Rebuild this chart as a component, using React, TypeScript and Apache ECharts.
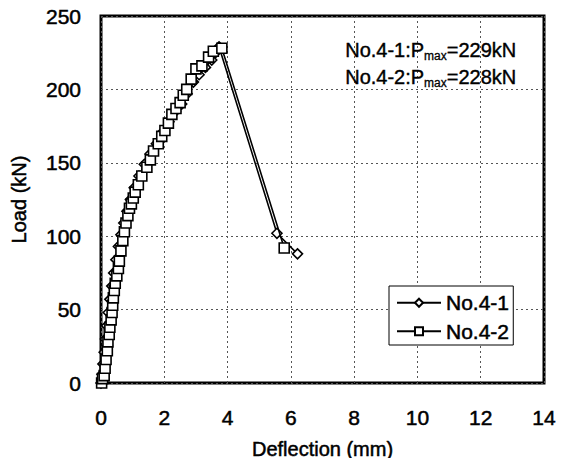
import React, { useEffect, useRef } from "react";
import * as echarts from "echarts";

const xTicks = [0, 2, 4, 6, 8, 10, 12, 14];
const yTicks = [0, 50, 100, 150, 200, 250];

const seriesNames = ["No.4-1", "No.4-2"];

// No.4-1 (diamonds)
const defl1 = [0, 0.03, 0.06, 0.1, 0.14, 0.18, 0.23, 0.28, 0.34, 0.4, 0.47, 0.55, 0.63, 0.72, 0.82, 0.93, 1.05, 1.2, 1.37, 1.55, 1.75, 1.95, 2.15, 2.35, 2.55, 2.72, 2.92, 3.1, 3.3, 3.5, 3.62, 3.73, 5.56, 6.21];
const load1 = [0, 6, 13, 21, 30, 39, 48, 57, 66, 75, 84, 93, 101, 109, 117, 125, 133, 141, 149, 156, 163, 171, 178, 185, 190, 197, 205, 210, 215, 220, 225, 229, 102, 88];

// No.4-2 (squares)
const defl2 = [0.02, 0.05, 0.1, 0.13, 0.16, 0.2, 0.22, 0.26, 0.28, 0.32, 0.35, 0.37, 0.39, 0.42, 0.45, 0.5, 0.55, 0.58, 0.63, 0.69, 0.74, 0.79, 0.85, 0.9, 0.96, 1.02, 1.08, 1.18, 1.29, 1.45, 1.56, 1.66, 1.81, 1.92, 2.02, 2.13, 2.24, 2.37, 2.5, 2.6, 2.71, 2.85, 3.0, 3.19, 3.4, 3.55, 3.82, 5.79];
const load2 = [0, 3, 5, 10, 16, 22, 28, 33, 38, 43, 48, 53, 58, 63, 68, 73, 78, 83, 90, 97, 103, 109, 114, 119, 122, 126, 130, 135, 141, 147, 152, 158, 163, 168, 172, 177, 183, 187, 191, 196, 200, 207, 214, 216, 222, 226, 228, 92];

const annotations = [
  { id: "No.4-1", pmax: 229 },
  { id: "No.4-2", pmax: 228 },
];

const FONT = "'Liberation Sans', Arial, sans-serif";
const thick = { textBorderColor: "#000", textBorderWidth: 0.5 };

export default function App() {
  const ref = useRef<HTMLDivElement>(null);
  useEffect(() => {
    if (!ref.current) return;
    const chart = echarts.init(ref.current, undefined, { renderer: "svg" });
    const toPairs = (xs: number[], ys: number[]) => xs.map((x, i) => [x, ys[i]]);
    const symbolStyle = { color: "#fff", borderColor: "#000", borderWidth: 1.6 };
    chart.setOption({
      animation: false,
      backgroundColor: "#fff",
      textStyle: { fontFamily: FONT, color: "#000" },
      grid: {
        left: 101,
        right: 24,
        top: 16,
        bottom: 83,
        show: true,
        borderColor: "#000",
        borderWidth: 3,
        backgroundColor: "transparent",
      },
      xAxis: {
        type: "value",
        min: xTicks[0],
        max: xTicks[xTicks.length - 1],
        interval: 2,
        name: "Deflection (mm)",
        nameLocation: "middle",
        nameGap: 56,
        nameTextStyle: { fontSize: 20, color: "#000", fontFamily: FONT, ...thick },
        axisLine: { show: false },
        axisTick: { show: false },
        axisLabel: { fontSize: 21, color: "#000", margin: 24, fontFamily: FONT, ...thick },
        splitLine: { show: true, lineStyle: { color: "#555", type: [2, 3], width: 1 } },
      },
      yAxis: {
        type: "value",
        min: yTicks[0],
        max: yTicks[yTicks.length - 1],
        interval: 50,
        name: "Load (kN)",
        nameLocation: "middle",
        nameGap: 72,
        nameTextStyle: { fontSize: 20, color: "#000", fontFamily: FONT, ...thick },
        axisLine: { show: false },
        axisTick: { show: false },
        axisLabel: { fontSize: 21, color: "#000", margin: 20, fontFamily: FONT, ...thick },
        splitLine: { show: true, lineStyle: { color: "#555", type: [2, 3], width: 1 } },
      },
      legend: {
        orient: "vertical",
        left: 389,
        top: 286,
        padding: [6, 4, 3, 7],
        itemGap: 7,
        itemWidth: 44,
        itemHeight: 10,
        backgroundColor: "#fff",
        borderColor: "#000",
        borderWidth: 1,
        borderRadius: 0,
        textStyle: { fontSize: 21, color: "#000", fontFamily: FONT, ...thick },
        data: seriesNames,
      },
      graphic: annotations.map((a, i) => ({
        type: "text",
        left: 345,
        top: 40 + i * 27,
        z: 100,
        style: {
          text: `{a|${a.id}:P}{b|max}{a|=${a.pmax}kN}`,
          rich: {
            a: { fontSize: 20, fontFamily: FONT, fill: "#000", lineHeight: 24, stroke: "#000", lineWidth: 0.4 },
            b: { fontSize: 12, fontFamily: FONT, fill: "#000", lineHeight: 24, verticalAlign: "bottom", stroke: "#000", lineWidth: 0.3 },
          },
        },
      })),
      series: [
        {
          name: seriesNames[0],
          type: "line",
          data: toPairs(defl1, load1),
          symbol: "diamond",
          symbolSize: 10,
          clip: false,
          lineStyle: { color: "#000", width: 1.6 },
          itemStyle: symbolStyle,
          z: 2,
        },
        {
          name: seriesNames[1],
          type: "line",
          data: toPairs(defl2, load2),
          symbol: "rect",
          symbolSize: 10,
          clip: false,
          lineStyle: { color: "#000", width: 1.6 },
          itemStyle: symbolStyle,
          z: 3,
        },
      ],
    });
    return () => chart.dispose();
  }, []);
  return <div ref={ref} style={{ width: 568, height: 466, margin: -8 }} />;
}
